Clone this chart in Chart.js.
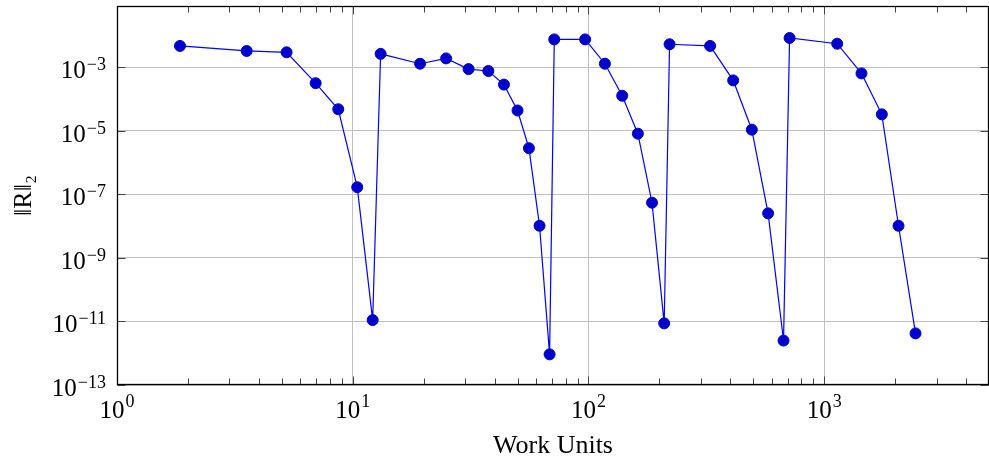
<!DOCTYPE html>
<html>
<head>
<meta charset="utf-8">
<script src="https://cdn.jsdelivr.net/npm/chart.js@4.4.1/dist/chart.umd.min.js"></script>
<style>
  html, body { margin: 0; padding: 0; background: #fff; }
</style>
</head>
<body>
<canvas id="resChart" width="989" height="462"></canvas>
<script>
// work units (x) and residual norm (y)
const workUnits = [1.85, 3.55, 5.24, 6.96, 8.68, 10.45, 12.15, 13.13, 19.3, 24.9,
  31.0, 37.6, 43.8, 50.0, 55.9, 62.0, 68.4, 71.6, 96.8, 117.4,
  139, 162, 186, 209.5, 220.8, 328, 411, 493, 578, 672,
  713, 1135, 1439, 1755, 2066, 2439];
const residual = [4.6e-3, 3.2e-3, 2.9e-3, 3.1e-4, 4.7e-5, 1.66e-7, 1.1e-11, 2.6e-3, 1.27e-3, 1.87e-3,
  8.6e-4, 7.5e-4, 2.8e-4, 4.3e-5, 2.8e-6, 1.02e-8, 9.2e-13, 7.4e-3, 7.4e-3, 1.27e-3,
  1.25e-4, 8.0e-6, 5.4e-8, 8.7e-12, 5.2e-3, 4.6e-3, 3.8e-4, 1.07e-5, 2.5e-8, 2.5e-12,
  8.2e-3, 5.4e-3, 6.3e-4, 3.25e-5, 1.02e-8, 4.2e-12];

const xTickExp = [0, 1, 2, 3];
const yTickExp = [-13, -11, -9, -7, -5, -3];

const serif = "'Liberation Serif', 'DejaVu Serif', serif";

// draws the box, the inner tick marks and the 10^n labels
const axisDecor = {
  id: 'axisDecor',
  afterDraw: (chart) => {
    const ctx = chart.ctx;
    const a = chart.chartArea;
    const xs = chart.scales.x;
    const ys = chart.scales.y;
    const L = Math.round(a.left) + 0.5, R = Math.round(a.right) - 0.5;
    const T = Math.round(a.top) + 0.5, B = Math.round(a.bottom) - 0.5;
    const seg = (x1, y1, x2, y2) => { ctx.beginPath(); ctx.moveTo(x1, y1); ctx.lineTo(x2, y2); ctx.stroke(); };

    ctx.save();
    ctx.strokeStyle = '#444';
    ctx.lineWidth = 1;
    // minor ticks on x
    for (let e = 0; e <= 3; e++) {
      for (let m = 2; m <= 9; m++) {
        const v = m * Math.pow(10, e);
        if (v >= xs.max) continue;
        const px = Math.round(xs.getPixelForValue(v)) + 0.5;
        seg(px, B, px, B - 6);
        seg(px, T, px, T + 6);
      }
    }
    // major ticks
    xTickExp.forEach(e => {
      const px = Math.round(xs.getPixelForValue(Math.pow(10, e))) + 0.5;
      seg(px, B, px, B - 8);
      seg(px, T, px, T + 8);
    });
    yTickExp.forEach(e => {
      const py = Math.round(ys.getPixelForValue(Math.pow(10, e))) + 0.5;
      seg(L, py, L + 8, py);
      seg(R, py, R - 8, py);
    });

    // frame
    ctx.strokeStyle = '#000';
    ctx.lineWidth = 1.3;
    ctx.strokeRect(L, T, R - L, B - T);

    // tick labels 10^n
    ctx.fillStyle = '#000';
    ctx.textBaseline = 'alphabetic';
    const baseFont = '25px ' + serif;
    const expFont = '18px ' + serif;
    const expText = (e) => (e < 0 ? '\u2212' + (-e) : String(e));

    xTickExp.forEach(e => {
      const px = xs.getPixelForValue(Math.pow(10, e));
      ctx.font = baseFont;
      const wb = ctx.measureText('10').width;
      ctx.font = expFont;
      const we = ctx.measureText(expText(e)).width;
      const x0 = px - (wb + we + 1) / 2;
      ctx.textAlign = 'left';
      ctx.font = baseFont;
      ctx.fillText('10', x0, 418);
      ctx.font = expFont;
      ctx.fillText(expText(e), x0 + wb + 1, 407);
    });

    yTickExp.forEach(e => {
      const py = ys.getPixelForValue(Math.pow(10, e));
      ctx.font = expFont;
      const we = ctx.measureText(expText(e)).width;
      ctx.textAlign = 'left';
      const xr = 106;
      ctx.fillText(expText(e), xr - we, py + 3);
      ctx.font = baseFont;
      const wb = ctx.measureText('10').width;
      ctx.fillText('10', xr - we - 1 - wb, py + 11);
    });
    ctx.restore();
  }
};

const ctx = document.getElementById('resChart').getContext('2d');
new Chart(ctx, {
  type: 'line',
  data: {
    datasets: [{
      label: 'residual',
      data: workUnits.map((w, i) => ({ x: w, y: residual[i] })),
      borderColor: '#0000ff',
      borderWidth: 1.2,
      pointRadius: 5.5,
      pointHoverRadius: 5.5,
      pointBackgroundColor: '#0000cc',
      pointBorderColor: '#0000cc',
      pointBorderWidth: 1,
      tension: 0,
      fill: false
    }]
  },
  options: {
    responsive: false,
    animation: false,
    layout: { autoPadding: false, padding: { top: 6, right: 0, left: 0, bottom: 0 } },
    plugins: {
      legend: { display: false },
      tooltip: { enabled: false }
    },
    scales: {
      x: {
        type: 'logarithmic',
        min: 1,
        max: 5000,
        afterBuildTicks: (scale) => { scale.ticks = xTickExp.map(e => ({ value: Math.pow(10, e) })); },
        afterFit: (scale) => { scale.height = 77; },
        ticks: { display: false },
        grid: { color: '#c0c0c0', lineWidth: 1, drawTicks: false },
        border: { display: false },
        title: {
          display: true,
          text: 'Work Units',
          color: '#000',
          font: { family: serif, size: 26 },
          padding: { top: 0, bottom: 0 }
        }
      },
      y: {
        type: 'logarithmic',
        min: 1e-13,
        max: 0.083,
        afterBuildTicks: (scale) => { scale.ticks = yTickExp.map(e => ({ value: Math.pow(10, e) })); },
        afterFit: (scale) => { scale.width = 117; },
        ticks: { display: false },
        grid: { color: '#c0c0c0', lineWidth: 1, drawTicks: false },
        border: { display: false },
        title: {
          display: true,
          text: '\u2016R\u2016\u2082',
          color: '#000',
          font: { family: serif, size: 26 },
          padding: { top: 9, bottom: 0 }
        }
      }
    }
  },
  plugins: [axisDecor]
});
</script>
</body>
</html>
